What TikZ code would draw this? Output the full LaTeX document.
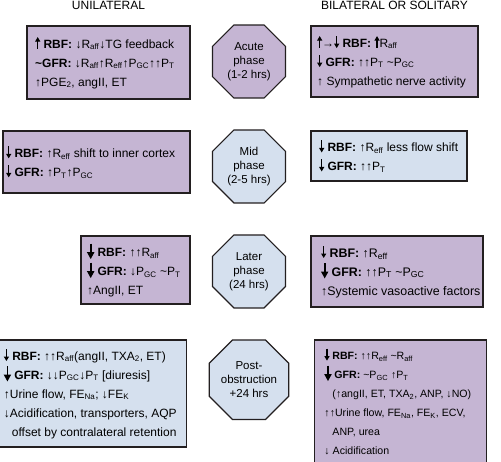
\documentclass[tikz,border=0pt]{standalone}
\usepackage{fontspec}
\setmainfont{Liberation Sans}
\usetikzlibrary{arrows.meta,positioning,shapes.geometric}
\definecolor{PhasePurple}{RGB}{197,181,211}
\definecolor{PhaseBlue}{RGB}{213,224,238}
\definecolor{PhaseEdge}{RGB}{35,31,32}
\tikzset{
  box/.style={draw=PhaseEdge, line width=1.2pt, outer sep=0pt, inner sep=0pt},
  purplebox/.style={box, fill=PhasePurple},
  bluebox/.style={box, fill=PhaseBlue},
  boxsize/.style 2 args={minimum width=#1, minimum height=#2},
  boxtext/.style={anchor=west, align=left, inner sep=0pt, font=\fontsize{12}{19}\selectfont},
  octa/.style={regular polygon, regular polygon sides=8, minimum size=79pt, inner sep=0pt, outer sep=0pt, draw=PhaseEdge, line width=1.2pt, align=center, font=\fontsize{11.5}{14}\selectfont},
  headtext/.style={inner sep=0pt, font=\fontsize{12}{14}\selectfont},
  thks/.style={line width=1.3pt, draw=black, -{Triangle[length=4.5pt,width=5pt]}},
  thkl/.style={line width=1.8pt, draw=black, -{Triangle[length=7pt,width=7pt]}}
}
\newcommand{\sub}[1]{\textsubscript{#1}}
\newcommand{\upS}{\tikz[baseline=0pt]\draw[thks] (0,-0.5pt) -- (0,11pt);}
\newcommand{\dnS}{\tikz[baseline=0pt]\draw[thks] (0,11pt) -- (0,-1pt);}
\newcommand{\dnL}{\tikz[baseline=0pt]\draw[thkl] (0,13pt) -- (0,-2.5pt);}
\newcommand{\til}{\textasciitilde}

\begin{document}
\begin{tikzpicture}[x=1pt,y=-1pt]
\useasboundingbox (0,0) rectangle (501,462);
% phases
\node[octa, fill=PhasePurple] (acute) at (249,61.5) {Acute\\phase\\(1-2 hrs)};
\node[octa, fill=PhaseBlue, below=32pt of acute] (mid) {Mid\\phase\\(2-5 hrs)};
\node[octa, fill=PhaseBlue, below=32pt of mid] (later) {Later\\phase\\(24 hrs)};
\node[octa, fill=PhaseBlue, below=32pt of later] (post) {Post-\\obstruction\\+24 hrs};
% unilateral
\node[purplebox, boxsize={163pt}{73pt}, anchor=north east,
  label={[boxtext, xshift=8pt]west:{\upS\ \textbf{RBF:} ↓R\sub{aff}↓TG feedback\\
   \textbf{\til GFR:} ↓R\sub{aff}↑R\sub{eff}↑P\sub{GC}↑↑P\sub{T}\\
   ↑PGE\sub{2}, angII, ET}}] (uniacute) at ([xshift=-22.5pt, yshift=-1pt]acute.north -| acute.west) {};
\node[purplebox, boxsize={187pt}{62pt}, anchor=north east,
  label={[boxtext, xshift=3pt]west:{\dnS\ \textbf{RBF:} ↑R\sub{eff} shift to inner cortex\\
   \dnS\ \textbf{GFR:} ↑P\sub{T}↑P\sub{GC}}}] (unimid) at ([xshift=-22.5pt, yshift=-1pt]mid.north -| mid.west) {};
\node[purplebox, boxsize={109pt}{68pt}, anchor=north east,
  label={[boxtext, xshift=6pt]west:{\dnL\ \textbf{RBF:} ↑↑R\sub{aff}\\
   \dnL\ \textbf{GFR:} ↓P\sub{GC} \til P\sub{T}\\
   ↑AngII, ET}}] (unilater) at ([xshift=-22.5pt, yshift=-1pt]later.north -| later.west) {};
\node[bluebox, boxsize={187pt}{107pt}, anchor=north east,
  label={[boxtext, xshift=4pt]west:{\dnS\ \textbf{RBF:} ↑↑R\sub{aff}(angII, TXA\sub{2}, ET)\\
   \dnL\ \textbf{GFR:} ↓↓P\sub{GC}↓P\sub{T} [diuresis]\\
   ↑Urine flow, FE\sub{Na}; ↓FE\sub{K}\\
   ↓Acidification, transporters, AQP\\
   \hspace*{8pt}offset by contralateral retention}}] (unipost) at ([xshift=-22.5pt]post.north -| post.west) {};
% bilateral or solitary
\node[purplebox, boxsize={167pt}{71pt}, anchor=north west,
  label={[boxtext, xshift=6pt]west:{\upS→\dnS\ \textbf{RBF:} \upS R\sub{aff}\\
   \dnS\ \textbf{GFR:} ↑↑P\sub{T} \til P\sub{GC}\\
   ↑ Sympathetic nerve activity}}] (biacute) at ([xshift=25.5pt, yshift=-1pt]acute.north -| acute.east) {};
\node[bluebox, boxsize={156pt}{50pt}, anchor=north west,
  label={[boxtext, xshift=8pt]west:{\dnS\ \textbf{RBF:} ↑R\sub{eff} less flow shift\\
   \dnS\ \textbf{GFR:} ↑↑P\sub{T}}}] (bimid) at ([xshift=25.5pt, yshift=-1pt]mid.north -| mid.east) {};
\node[purplebox, boxsize={172pt}{71pt}, anchor=north west,
  label={[boxtext, font=\fontsize{12.4}{19}\selectfont, xshift=10pt]west:{\dnS\ \textbf{RBF:} ↑R\sub{eff}\\
   \dnL\ \textbf{GFR:} ↑↑P\sub{T} \til P\sub{GC}\\
   ↑Systemic vasoactive factors}}] (bilater) at ([xshift=25.5pt, yshift=-1pt]later.north -| later.east) {};
\node[purplebox, boxsize={172pt}{123pt}, anchor=north west,
  label={[boxtext, font=\fontsize{10.6}{19}\selectfont, xshift=10pt]west:{\dnS\ \textbf{RBF:} ↑↑R\sub{eff} \til R\sub{aff}\\
   \dnL\ \textbf{GFR:} \til P\sub{GC} ↑P\sub{T}\\
   \hspace*{8pt}(↑angII, ET, TXA\sub{2}, ANP, ↓NO)\\
   ↑↑Urine flow, FE\sub{Na}, FE\sub{K}, ECV,\\
   \hspace*{8pt}ANP, urea\\
   ↓ Acidification}}] (bipost) at ([xshift=25.5pt]post.north -| post.east) {};
% column heads
\node[headtext, above=16pt of uniacute] (unihead) {UNILATERAL};
\node[headtext, above=16pt of biacute] (bihead) {BILATERAL OR SOLITARY};
\end{tikzpicture}
\end{document}
